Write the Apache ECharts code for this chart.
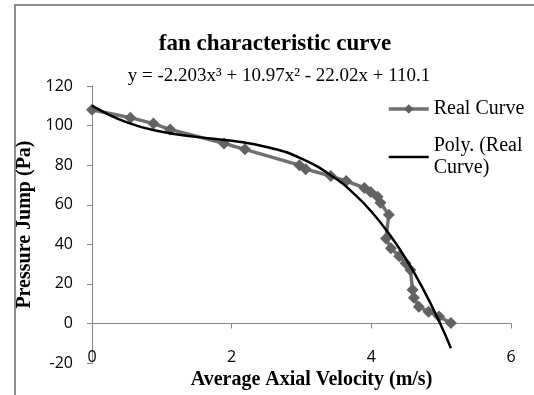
<!DOCTYPE html>
<html>
<head>
<meta charset="utf-8">
<script src="https://cdn.jsdelivr.net/npm/echarts@6/dist/echarts.min.js"></script>
<style>
html,body{margin:0;padding:0;background:#fff;}
#c{width:534px;height:395px;}
</style>
</head>
<body>
<div id="c"></div>
<script>
// Measured data (Real Curve)
var velocity = [0, 0.55, 0.88, 1.12, 1.89, 2.19, 2.97, 3.06, 3.42, 3.64, 3.90, 3.99, 4.09, 4.13, 4.25, 4.21, 4.28, 4.40, 4.49, 4.56, 4.59, 4.61, 4.68, 4.82, 4.97, 5.14];
var pressure = [108, 104, 101, 98, 91, 88, 80, 78, 74.5, 72, 68.5, 66.5, 64, 61, 55, 43, 38, 34, 30.5, 27, 17, 13, 8.5, 6, 3.5, 0.3];
// Trendline points
var trendX = [0, 0.5, 1, 1.5, 2, 2.5, 3, 3.5, 3.75, 4, 4.25, 4.5, 4.75, 5, 5.14];
var trendY = [110.1, 101.6, 96.9, 94.3, 92.3, 89.2, 83.3, 73.0, 65.6, 56.6, 45.5, 32.4, 16.9, -1.1, -12.5];
// Axis ticks
var xTicks = {min: 0, max: 6, interval: 2};
var yTicks = {min: -20, max: 120, interval: 20};

var serif = '"Liberation Serif", "Times New Roman", serif';
var sans = '"Open Sans", "Liberation Sans", sans-serif';

var chart = echarts.init(document.getElementById('c'), null, {renderer: 'canvas'});

var realData = velocity.map(function (v, i) { return [v, pressure[i]]; });
var trendData = trendX.map(function (v, i) { return [v, trendY[i]]; });

chart.setOption({
  backgroundColor: '#fff',
  animation: false,
  graphic: [{
    type: 'rect',
    shape: {x: 15, y: 5, width: 700, height: 600},
    style: {fill: 'none', stroke: '#8c8c8c', lineWidth: 2},
    silent: true, z: -1
  }],
  title: [{
    text: 'fan characteristic curve',
    left: 270, top: 28, textAlign: 'center',
    textStyle: {fontFamily: serif, fontWeight: 'bold', fontSize: 23, color: '#000'}
  }, {
    text: 'y = -2.203x\u00b3 + 10.97x\u00b2 - 22.02x + 110.1',
    left: 274, top: 62, textAlign: 'center',
    textStyle: {fontFamily: serif, fontWeight: 'normal', fontSize: 19, color: '#000'}
  }],
  legend: {
    orient: 'vertical',
    left: 382, top: 93,
    itemWidth: 40, itemHeight: 12, itemGap: 15,
    textStyle: {fontFamily: serif, fontSize: 20, color: '#000', lineHeight: 22},
    formatter: function (name) { return name === 'Poly. (Real Curve)' ? 'Poly. (Real\nCurve)' : name; },
    data: [
      {name: 'Real Curve', lineStyle: {color: '#707070', width: 3.5}, itemStyle: {color: '#626262'}},
      {name: 'Poly. (Real Curve)',
       icon: 'path://M0,0 L0.01,0 L0,0.01 Z M40,12 L39.99,12 L40,11.99 Z M0,4.7 L40,4.7 L40,7.3 L0,7.3 Z',
       itemStyle: {color: '#000'}}
    ]
  },
  grid: {left: 92, right: 23, top: 86, bottom: 31, containLabel: false},
  xAxis: [{
    type: 'value', min: xTicks.min, max: xTicks.max, interval: xTicks.interval,
    axisLine: {show: true, onZero: true, lineStyle: {color: '#868686', width: 1}},
    axisTick: {show: true, length: 5, lineStyle: {color: '#868686'}},
    axisLabel: {show: false},
    splitLine: {show: false}
  }, {
    type: 'value', min: xTicks.min, max: xTicks.max, interval: xTicks.interval,
    position: 'bottom',
    axisLine: {show: false, onZero: false},
    axisTick: {show: false},
    axisLabel: {show: true, margin: -14, fontFamily: sans, fontSize: 16, color: '#000'},
    splitLine: {show: false},
    name: 'Average Axial Velocity (m/s)',
    nameLocation: 'middle', nameGap: 1,
    nameTextStyle: {fontFamily: serif, fontWeight: 'bold', fontSize: 20, color: '#000', padding: [0, 0, 0, 20]}
  }],
  yAxis: [{
    type: 'value', min: yTicks.min, max: yTicks.max, interval: yTicks.interval,
    axisLine: {show: true, onZero: false, lineStyle: {color: '#868686', width: 1}},
    axisTick: {show: true, length: 5, lineStyle: {color: '#868686'}},
    axisLabel: {show: true, margin: 19, fontFamily: sans, fontSize: 16, color: '#000'},
    splitLine: {show: false},
    name: 'Pressure Jump (Pa)',
    nameLocation: 'middle', nameGap: 54, nameRotate: 90,
    nameTextStyle: {fontFamily: serif, fontWeight: 'bold', fontSize: 20, color: '#000'}
  }],
  series: [{
    name: 'Real Curve',
    type: 'line',
    xAxisIndex: 0,
    data: realData,
    symbol: 'diamond', symbolSize: 12,
    lineStyle: {color: '#707070', width: 3.5},
    itemStyle: {color: '#626262'},
    z: 2
  }, {
    name: 'Poly. (Real Curve)',
    type: 'line',
    xAxisIndex: 0,
    data: trendData,
    smooth: true,
    symbol: 'none',
    lineStyle: {color: '#000', width: 2.5},
    itemStyle: {color: '#000'},
    z: 3
  }]
});
</script>
</body>
</html>
